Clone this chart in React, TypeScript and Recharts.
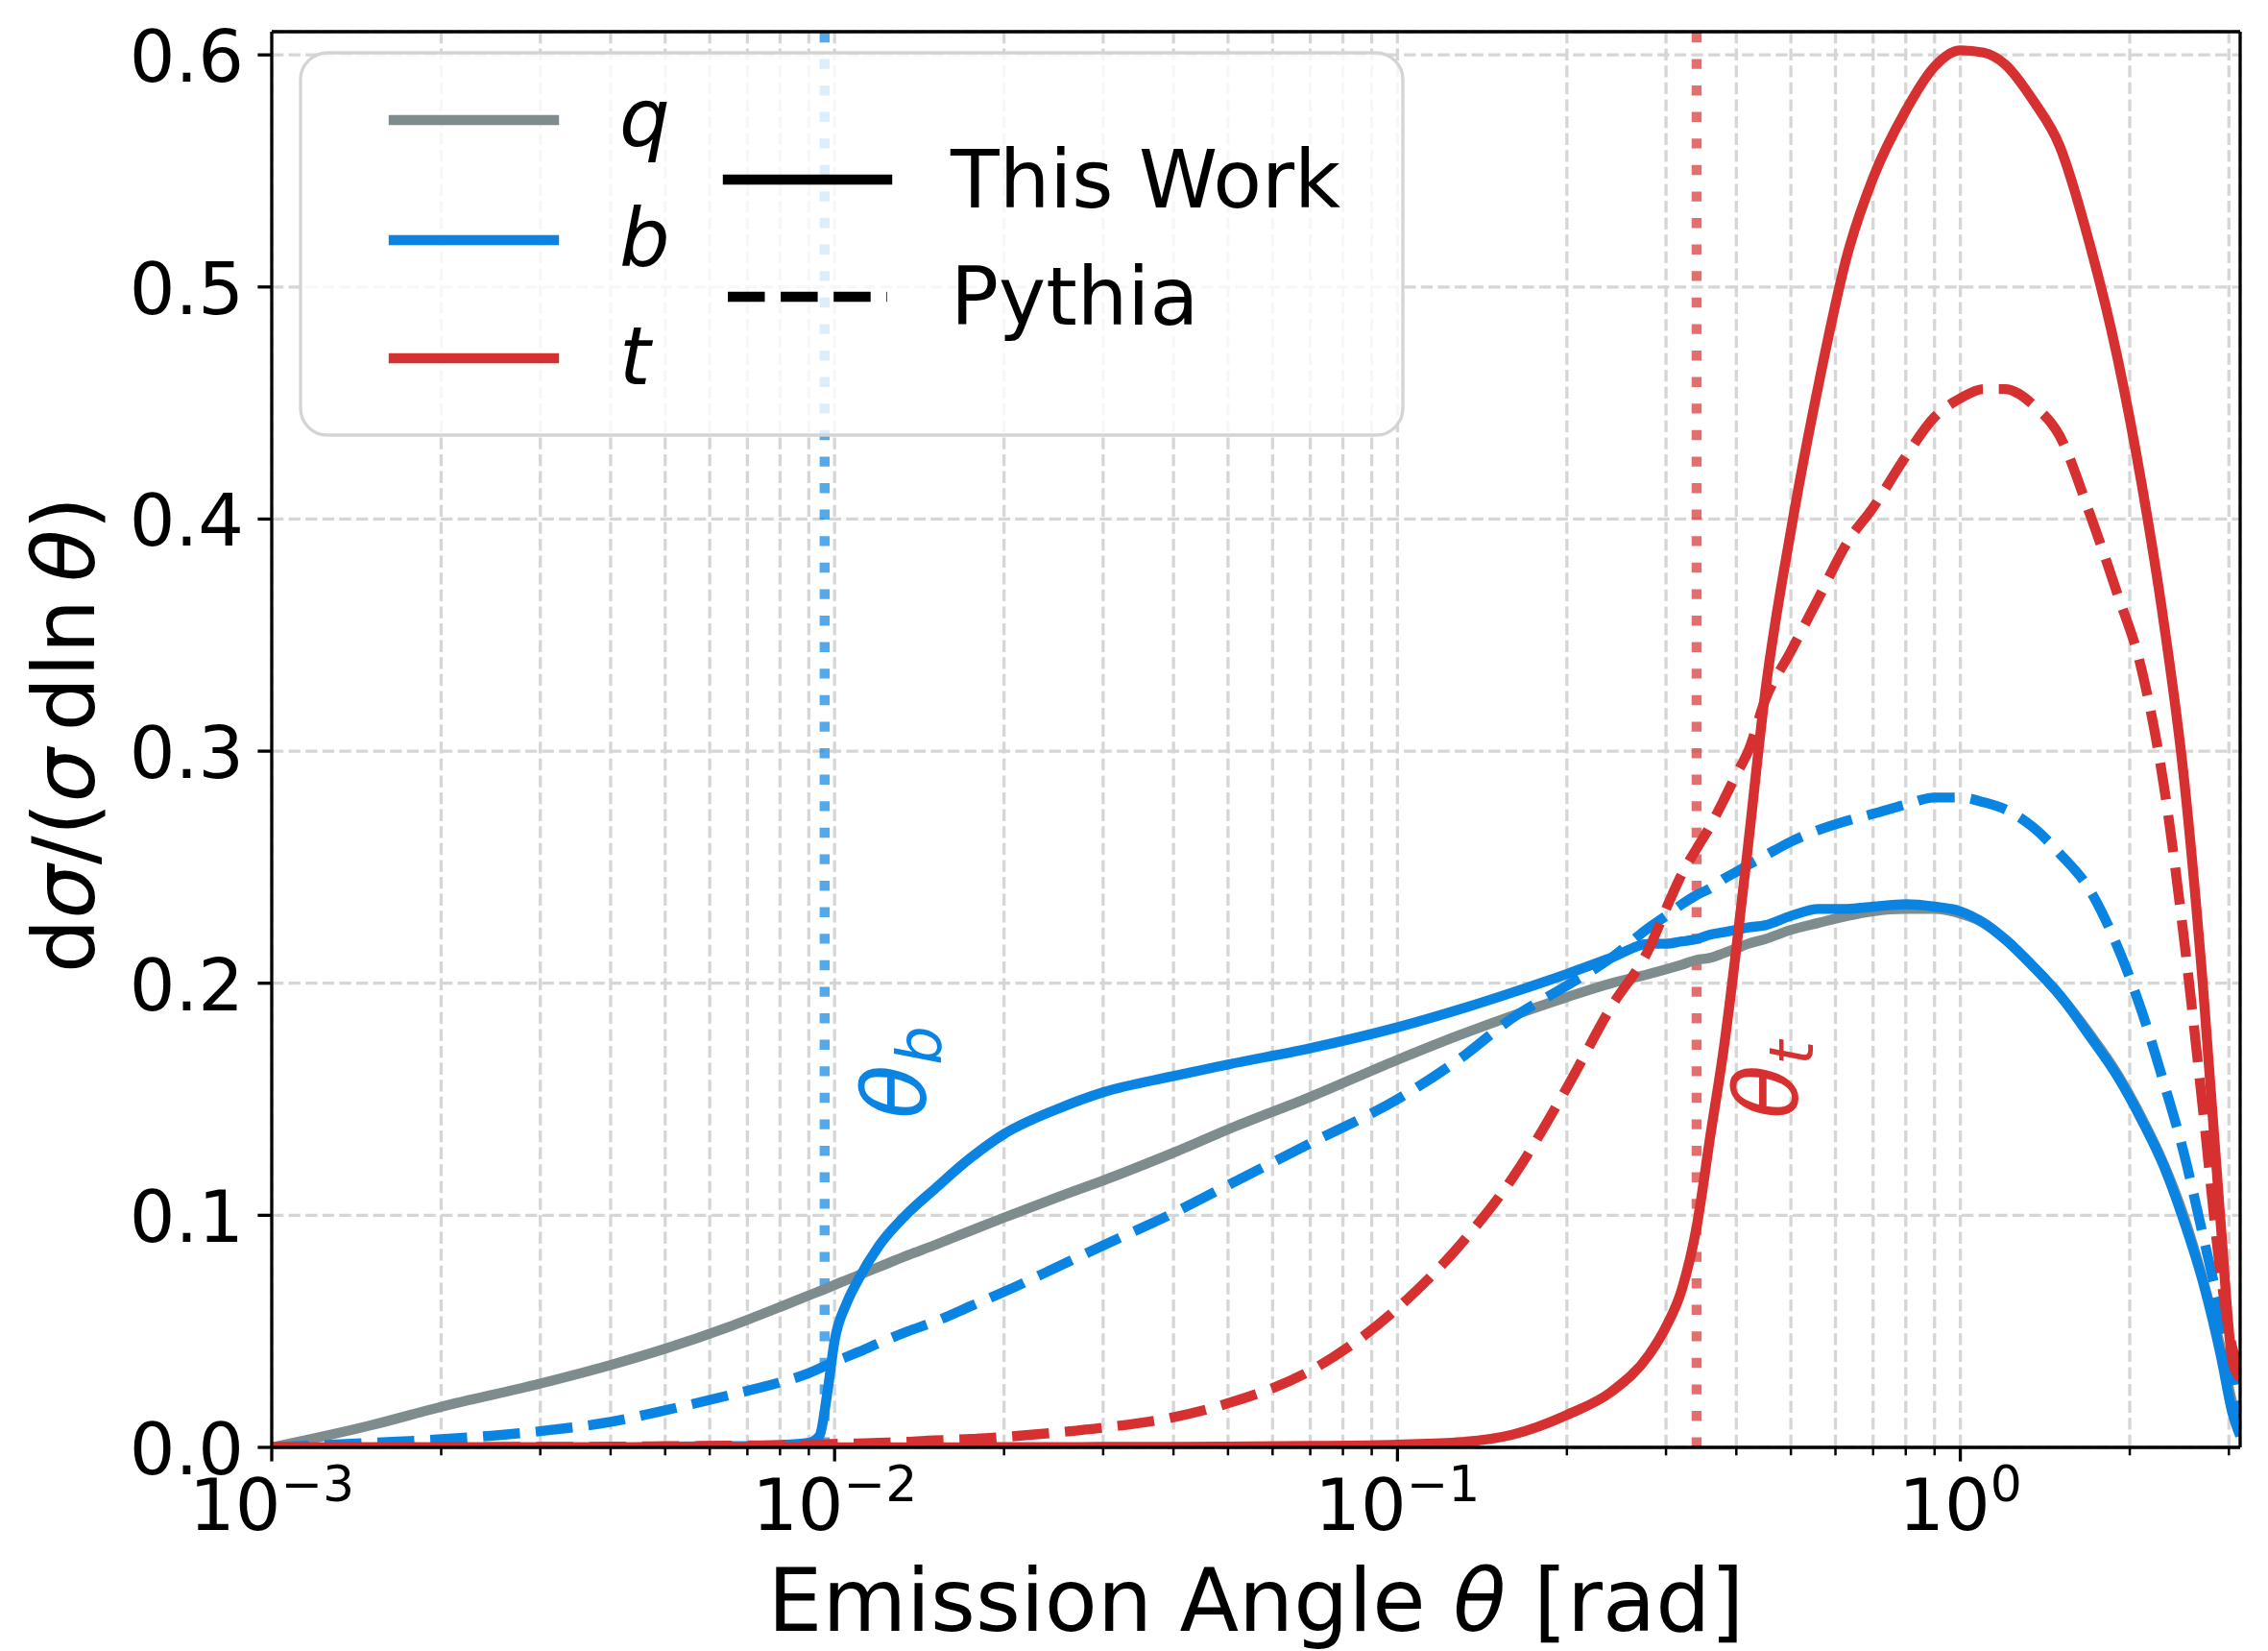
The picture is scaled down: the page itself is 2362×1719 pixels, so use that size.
import { LineChart, Line, XAxis, YAxis, CartesianGrid, ReferenceLine, Legend } from 'recharts';

const FONT = '"DejaVu Sans", sans-serif';

// colours
const GRAY = '#7f8c8d';
const BLUE = '#0984e3';
const RED = '#d63031';

// emission angle grid (rad)
const thetaGrid = [
  0.001, 0.0015, 0.002, 0.003, 0.004, 0.005, 0.0065, 0.008, 0.009, 0.0094, 0.0097, 0.01,
  0.0105, 0.011, 0.012, 0.0135, 0.015, 0.0175, 0.02, 0.025, 0.03, 0.04, 0.05, 0.07,
  0.1, 0.13, 0.16, 0.2, 0.24, 0.28, 0.3, 0.32, 0.34, 0.36, 0.38, 0.4,
  0.42, 0.45, 0.5, 0.56, 0.63, 0.7, 0.8, 0.9, 1.0, 1.1, 1.2,
  1.35, 1.5, 1.7, 1.9, 2.1, 2.3, 2.5, 2.7, 2.9, 3.05, 3.1416,
];

// q, this work
const qThisWork = [
  0, 0.0095, 0.0175, 0.0275, 0.0355, 0.0425, 0.052, 0.0605, 0.0655, 0.0673, 0.0686, 0.07,
  0.0721, 0.0741, 0.0778, 0.0828, 0.087, 0.0935, 0.099, 0.108, 0.115, 0.127, 0.137, 0.151,
  0.167, 0.178, 0.186, 0.194, 0.2, 0.204, 0.206, 0.208, 0.21, 0.211, 0.213, 0.215,
  0.217, 0.219, 0.223, 0.226, 0.229, 0.231, 0.232, 0.232, 0.23, 0.226, 0.219,
  0.207, 0.195, 0.178, 0.161, 0.142, 0.122, 0.099, 0.072, 0.043, 0.018, 0.008,
];

// b, this work
const bThisWork = [
  0, 0, 0, 0, 0, 0.0003, 0.0005, 0.001, 0.002, 0.005, 0.023, 0.046,
  0.062, 0.072, 0.087, 0.101, 0.111, 0.125, 0.135, 0.146, 0.153, 0.16, 0.165, 0.172,
  0.181, 0.189, 0.196, 0.204, 0.211, 0.217, 0.217, 0.218, 0.219, 0.221, 0.222, 0.223,
  0.224, 0.225, 0.229, 0.232, 0.232, 0.233, 0.234, 0.233, 0.231, 0.226, 0.219,
  0.207, 0.195, 0.177, 0.16, 0.141, 0.121, 0.097, 0.071, 0.04, 0.014, 0.005,
];

// b, pythia
const bPythia = [
  0, 0.002, 0.0035, 0.007, 0.011, 0.016, 0.0225, 0.028, 0.032, 0.034, 0.0355, 0.037,
  0.039, 0.041, 0.045, 0.05, 0.054, 0.061, 0.067, 0.078, 0.087, 0.101, 0.113, 0.131,
  0.15, 0.168, 0.185, 0.199, 0.211, 0.224, 0.229, 0.234, 0.238, 0.241, 0.245, 0.248,
  0.251, 0.255, 0.261, 0.266, 0.27, 0.273, 0.277, 0.28, 0.28, 0.278, 0.275,
  0.267, 0.256, 0.24, 0.216, 0.188, 0.157, 0.126, 0.091, 0.058, 0.034, 0.015,
];

// t, this work
const tThisWork = [
  0, 0, 0, 0, 0, 0, 0, 0, 0, 0, 0, 0,
  0, 0, 0, 0, 0, 0.0001, 0.0001, 0.0001, 0.0002, 0.0002, 0.0003, 0.0006,
  0.0012, 0.0023, 0.0055, 0.014, 0.024, 0.04, 0.052, 0.068, 0.095, 0.135, 0.172, 0.215,
  0.26, 0.325, 0.395, 0.458, 0.514, 0.547, 0.576, 0.595, 0.602, 0.601, 0.596,
  0.58, 0.561, 0.518, 0.47, 0.415, 0.355, 0.287, 0.198, 0.097, 0.036, 0.03,
];

// t, pythia
const tPythia = [
  0, 0, 0.0001, 0.0002, 0.0003, 0.0005, 0.0007, 0.001, 0.0012, 0.0013, 0.0014, 0.0015,
  0.0016, 0.0017, 0.002, 0.0024, 0.003, 0.0036, 0.0045, 0.0065, 0.0085, 0.013, 0.019, 0.033,
  0.06, 0.088, 0.116, 0.155, 0.19, 0.215, 0.232, 0.247, 0.258, 0.268, 0.279, 0.29,
  0.3, 0.322, 0.343, 0.366, 0.39, 0.405, 0.427, 0.444, 0.452, 0.456, 0.456,
  0.449, 0.436, 0.402, 0.368, 0.335, 0.285, 0.218, 0.145, 0.075, 0.042, 0.035,
];

// characteristic angles m/E
const thetaB = 0.0096;
const thetaT = 0.34;

const majorTicks = [0.001, 0.01, 0.1, 1];
const minorMultipliers = [2, 3, 4, 5, 6, 7, 8, 9];
const yTicks = [0, 0.1, 0.2, 0.3, 0.4, 0.5, 0.6];

const xTicks = [
  ...majorTicks,
  ...majorTicks.flatMap((m) => minorMultipliers.map((k) => k * m)).filter((v) => v < Math.PI),
].sort((a, b) => a - b);

const toRows = (vals: number[]) => thetaGrid.map((x, i) => ({ x, v: vals[i] }));

const isMajor = (v: number) => Math.abs(Math.log10(v) - Math.round(Math.log10(v))) < 1e-9;

function XTick(props: any) {
  const { x, y, payload } = props;
  const v = payload.value;
  const major = isMajor(v);
  const exp = Math.round(Math.log10(v));
  return (
    <g>
      <line x1={x} x2={x} y1={y} y2={y + (major ? 14.6 : 8.3)} stroke="#000" strokeWidth={major ? 3.3 : 2.5} />
      {major && (
        <text x={x} y={y + 86} textAnchor="middle" fontSize={75} fontFamily={FONT} fill="#000">
          10
          <tspan fontSize={52} dy={-30}>{exp < 0 ? `\u2212${-exp}` : `${exp}`}</tspan>
        </text>
      )}
    </g>
  );
}

function YTick(props: any) {
  const { x, y, payload } = props;
  return (
    <g>
      <line x1={x - 14.6} x2={x} y1={y} y2={y} stroke="#000" strokeWidth={3.3} />
      <text x={x - 29} y={y + 28} textAnchor="end" fontSize={75} fontFamily={FONT} fill="#000">
        {payload.value.toFixed(1)}
      </text>
    </g>
  );
}

function XTitle() {
  return (
    <text x={1308} y={1698} textAnchor="middle" fontSize={90} fontFamily={FONT} fill="#000">
      Emission Angle <tspan fontStyle="italic">θ</tspan> [rad]
    </text>
  );
}

function YTitle() {
  return (
    <text x={98} y={765} transform="rotate(-90 98 765)" textAnchor="middle" fontSize={89} fontFamily={FONT} fill="#000">
      d<tspan fontStyle="italic">σ</tspan>/(<tspan fontStyle="italic">σ</tspan>{'\u2009'}dln{'\u2009'}
      <tspan fontStyle="italic">θ</tspan>)
    </text>
  );
}

function ThetaLabel(props: any) {
  const { viewBox, sub, color } = props;
  const px = viewBox.x + 105;
  const py = 1165;
  return (
    <text x={px} y={py} transform={`rotate(-90 ${px} ${py})`} fontSize={92} fontFamily={FONT} fill={color}>
      <tspan fontStyle="italic">θ</tspan>
      <tspan fontStyle="italic" fontSize={64} dy={16}>{sub}</tspan>
    </text>
  );
}

function LegendBox() {
  const rows = [
    { label: 'q', color: GRAY, y: 72 },
    { label: 'b', color: BLUE, y: 197 },
    { label: 't', color: RED, y: 320 },
  ];
  return (
    <svg width={1152} height={402} style={{ display: 'block' }}>
      <rect x={2} y={2} width={1148} height={398} rx={28} ry={28} fill="#fff" fillOpacity={0.8} stroke="#d4d4d4" strokeWidth={3.3} />
      {rows.map((r) => (
        <g key={r.label}>
          <line x1={99} x2={266} y1={r.y} y2={r.y} stroke={r.color} strokeWidth={10.4} strokeLinecap="square" />
          <text x={334} y={r.y + 27} fontSize={83} fontStyle="italic" fontFamily={FONT} fill="#000">{r.label}</text>
        </g>
      ))}
      <line x1={447} x2={613} y1={134} y2={134} stroke="#000" strokeWidth={10.4} strokeLinecap="square" />
      <text x={679} y={163} fontSize={83} fontFamily={FONT} fill="#000">This Work</text>
      <line x1={447} x2={613} y1={256} y2={256} stroke="#000" strokeWidth={10.4} strokeDasharray="38.5 16.6" />
      <text x={679} y={285} fontSize={83} fontFamily={FONT} fill="#000">Pythia</text>
    </svg>
  );
}

const LW = 10.4;
const DASH = '38.5 16.6';
const DOT = '10.4 17.2';

export default function App() {
  return (
    <div style={{ position: 'absolute', left: 0, top: 0, background: '#fff' }}>
      <LineChart width={2362} height={1719} margin={{ top: 33, right: 29, left: 83, bottom: 12 }}>
        <CartesianGrid stroke="#d6d6d6" strokeWidth={3.3} strokeDasharray="12.3 5.3" />
        <XAxis
          dataKey="x"
          type="number"
          scale="log"
          domain={[0.001, Math.PI]}
          allowDataOverflow
          ticks={xTicks}
          interval={0}
          height={200}
          tickSize={0}
          tickMargin={0}
          tickLine={false}
          axisLine={{ stroke: '#000', strokeWidth: 3.3 }}
          tick={<XTick />}
          label={<XTitle />}
        />
        <YAxis
          type="number"
          domain={[0, 0.61]}
          allowDataOverflow
          ticks={yTicks}
          interval={0}
          width={200}
          tickSize={0}
          tickMargin={0}
          tickLine={false}
          axisLine={{ stroke: '#000', strokeWidth: 3.3 }}
          tick={<YTick />}
          label={<YTitle />}
        />
        <ReferenceLine
          x={thetaB}
          stroke={BLUE}
          strokeOpacity={0.7}
          strokeWidth={LW}
          strokeDasharray={DOT}
          label={<ThetaLabel sub="b" color={BLUE} />}
        />
        <ReferenceLine
          x={thetaT}
          stroke={RED}
          strokeOpacity={0.7}
          strokeWidth={LW}
          strokeDasharray={DOT}
          label={<ThetaLabel sub="t" color={RED} />}
        />
        <Line data={toRows(qThisWork)} dataKey="v" type="monotone" stroke={GRAY} strokeWidth={LW} dot={false} strokeLinejoin="round" isAnimationActive={false} />
        <Line data={toRows(bThisWork)} dataKey="v" type="monotone" stroke={BLUE} strokeWidth={LW} dot={false} strokeLinejoin="round" isAnimationActive={false} />
        <Line data={toRows(bPythia)} dataKey="v" type="monotone" stroke={BLUE} strokeWidth={LW} strokeDasharray={DASH} dot={false} strokeLinejoin="round" isAnimationActive={false} />
        <Line data={toRows(tThisWork)} dataKey="v" type="monotone" stroke={RED} strokeWidth={LW} dot={false} strokeLinejoin="round" isAnimationActive={false} />
        <Line data={toRows(tPythia)} dataKey="v" type="monotone" stroke={RED} strokeWidth={LW} strokeDasharray={DASH} dot={false} strokeLinejoin="round" isAnimationActive={false} />
        <ReferenceLine y={0.61} stroke="#000" strokeWidth={3.3} />
        <ReferenceLine x={Math.PI} stroke="#000" strokeWidth={3.3} />
        <Legend
          layout="vertical"
          verticalAlign="middle"
          align="center"
          wrapperStyle={{ left: 311, top: 53, width: 1152, height: 402 }}
          content={() => <LegendBox />}
        />
      </LineChart>
    </div>
  );
}
